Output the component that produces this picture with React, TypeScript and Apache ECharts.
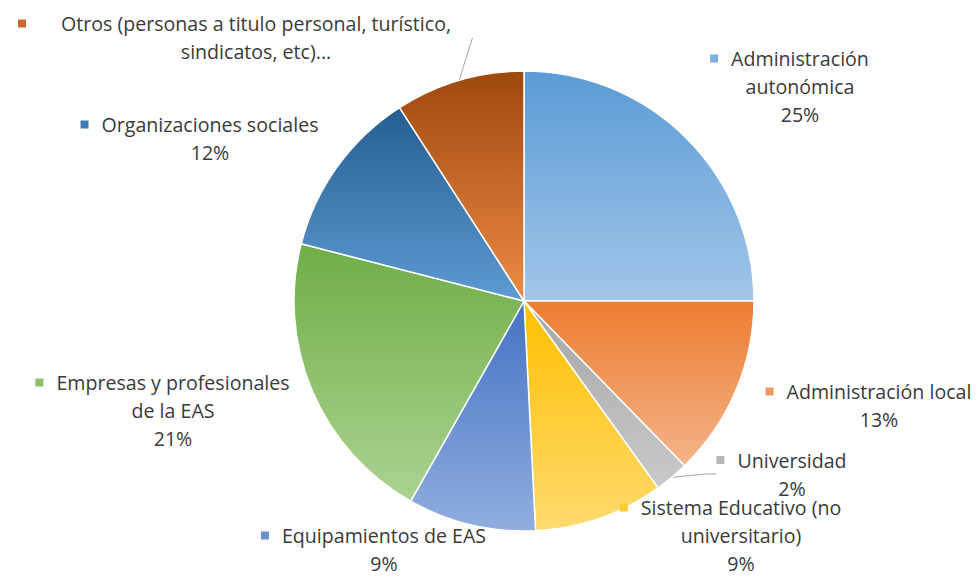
import React, { useEffect, useRef } from "react";
import * as echarts from "echarts";

// ---- data ----
const categories: string[] = [
  "Administración autonómica",
  "Administración local",
  "Universidad",
  "Sistema Educativo (no universitario)",
  "Equipamientos de EAS",
  "Empresas y profesionales de la EAS",
  "Organizaciones sociales",
  "Otros (personas a titulo personal, turístico, sindicatos, etc)...",
];
const shares: number[] = [25.0, 12.7, 2.4, 9.1, 9.0, 20.8, 11.9, 9.1];

// ---- presentation ----
const wrapped: string[][] = [
  ["Administración", "autonómica"],
  ["Administración local"],
  ["Universidad"],
  ["Sistema Educativo (no", "universitario)"],
  ["Equipamientos de EAS"],
  ["Empresas y profesionales", "de la EAS"],
  ["Organizaciones sociales"],
  ["Otros (personas a titulo personal, turístico,", "sindicatos, etc)..."],
];
const showPct = [true, true, true, true, true, true, true, false];
const topColors = ["#5B9BD5", "#ED7D31", "#A5A5A5", "#FFC000", "#4472C4", "#70AD47", "#255E91", "#9E480E"];
const bottomColors = ["#A2C6E9", "#F4B48A", "#CACACA", "#FFDA6E", "#91AEDF", "#ABD391", "#5E9BD3", "#EE8A45"];
const markColors = ["#7FB0E0", "#F09A5E", "#B8B8B8", "#FFCB33", "#6C8FD2", "#8DC06B", "#3F7CB5", "#C8682A"];
const labelCenter: [number, number][] = [
  [800, 86.5],
  [879, 405.5],
  [792, 474],
  [741, 535.5],
  [384, 549.5],
  [173, 410.5],
  [210, 138.5],
  [256, 37.5],
];
const showLine = [false, false, true, false, false, false, false, true];

export default function App() {
  const ref = useRef<HTMLDivElement>(null);
  useEffect(() => {
    if (!ref.current) return;
    const chart = echarts.init(ref.current, undefined, { renderer: "svg" });
    const rich: Record<string, any> = {
      gap: { width: 13 },
      pad: { width: 21 },
      gapO: { width: 35 },
      padO: { width: 43 },
    };
    markColors.forEach((c, i) => {
      rich["mk" + i] = { width: 8, height: 8, backgroundColor: c };
    });
    const data = categories.map((name, i) => ({
      name,
      value: shares[i],
      itemStyle: {
        color: new echarts.graphic.LinearGradient(0, 0, 0, 1, [
          { offset: 0, color: topColors[i] },
          { offset: 1, color: bottomColors[i] },
        ]),
      },
      labelLine: { show: showLine[i] },
    }));
    chart.setOption({
      animation: false,
      backgroundColor: "#ffffff",
      series: [
        {
          type: "pie",
          center: [524, 301],
          radius: 230,
          startAngle: 90,
          clockwise: true,
          percentPrecision: 0,
          data,
          itemStyle: { borderColor: "#ffffff", borderWidth: 1.5 },
          label: {
            show: true,
            position: "outside",
            overflow: "none",
            fontFamily: "Open Sans",
            fontSize: 19.6,
            color: "#3a3a3a",
            lineHeight: 28,
            formatter: (p: any) => {
              const i = p.dataIndex;
              const lines = wrapped[i];
              const isO = i === 7;
              const first = `{mk${i}|}{${isO ? "gapO" : "gap"}|}${lines[0]}{${isO ? "padO" : "pad"}|}`;
              const out = [first, ...lines.slice(1)];
              if (showPct[i]) out.push(`${p.percent}%`);
              return out.join("\n");
            },
            rich,
          },
          labelLine: {
            lineStyle: { color: "#A6A6A6", width: 1 },
            length: 12,
            length2: 10,
          },
          labelLayout: (params: any) => {
            const c = labelCenter[params.dataIndex];
            return { x: c[0], y: c[1], align: "center", verticalAlign: "middle" };
          },
        },
      ],
    });
    return () => chart.dispose();
  }, []);
  return (
    <div
      ref={ref}
      style={{ position: "fixed", left: 0, top: 0, width: 977, height: 577 }}
    />
  );
}
